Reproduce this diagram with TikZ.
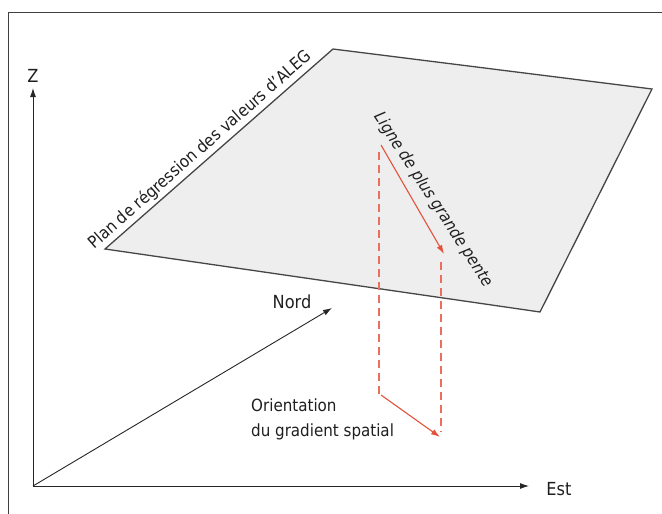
\documentclass[tikz,border=0pt]{standalone}
\usepackage{fontspec}
\setmainfont{DejaVu Sans Condensed}
\usetikzlibrary{arrows.meta}
\definecolor{redline}{RGB}{228,82,60}
\definecolor{reddashc}{RGB}{236,110,92}
\definecolor{planefill}{RGB}{238,238,238}
\definecolor{edgegray}{RGB}{70,70,70}
\tikzset{
  axisline/.style={draw=black!85, line width=0.9pt, -{Latex[length=9pt,width=6pt]}},
  redarrow/.style={draw=redline, line width=1.1pt, -{Latex[length=9pt,width=6pt]}},
  reddash/.style={color=reddashc, line width=1.1pt, dash pattern=on 8pt off 5pt},
  lbl/.style={font=\fontsize{16.8}{25}\selectfont, text=black!88, inner sep=2pt},
  lblit/.style={font=\fontsize{16.5}{18}\selectfont\itshape, text=black!88, inner sep=2pt},
}
\begin{document}
\begin{tikzpicture}[x=1pt,y=-1pt]
\useasboundingbox (0,0) rectangle (662,514);
% frame
\coordinate (fA) at (8,514);
\coordinate (fB) at (8,12);
\coordinate (fC) at (662,12);
\draw[black!75, line width=0.9pt] (fA) -- (fB) -- (fC);
% plane
\coordinate (pL) at (105,249);
\coordinate (pT) at (333,49);
\coordinate (pR) at (652,89);
\coordinate (pB) at (540,312);
\draw[edgegray, fill=planefill, line width=1.3pt, line join=miter] (pL) -- (pT) -- (pR) -- (pB) -- cycle;
% axes
\coordinate (O) at (33,486);
\coordinate (zT) at (33,88);
\coordinate (eT) at (529,486);
\coordinate (nT) at (332,308);
\draw[axisline] (O) -- (zT);
\draw[axisline] (O) -- (eT);
\draw[axisline] (O) -- (nT);
\node[lbl, font=\fontsize{18}{20}\selectfont] (zl) at (33,76) {Z};
\node[lbl, font=\fontsize{18}{20}\selectfont] (el) at (559,489) {Est};
\node[lbl, font=\fontsize{18}{20}\selectfont] (nl) at (292,302) {Nord};
% gradient lines
\coordinate (a1) at (381,145);
\coordinate (a2) at (444,254);
\coordinate (d1) at (379,152);
\coordinate (d2) at (379,394);
\coordinate (d3) at (441,262);
\coordinate (d4) at (441,432);
\coordinate (b1) at (381,395);
\coordinate (b2) at (440,437);
\draw[reddash] (d1) -- (d2);
\draw[reddash] (d3) -- (d4);
\draw[redarrow] (a1) -- (a2);
\draw[redarrow] (b1) -- (b2);
% labels
\node[lbl, rotate=41.3, anchor=south] (planlbl) at (207,158) {Plan de régression des valeurs d'ALEG};
\node[lblit, rotate=-57] (lignelbl) at (433,200) {Ligne de plus grande pente};
\node[lbl, align=left, anchor=north west] (orient) at (249,397) {Orientation\\du gradient spatial};
\end{tikzpicture}
\end{document}
